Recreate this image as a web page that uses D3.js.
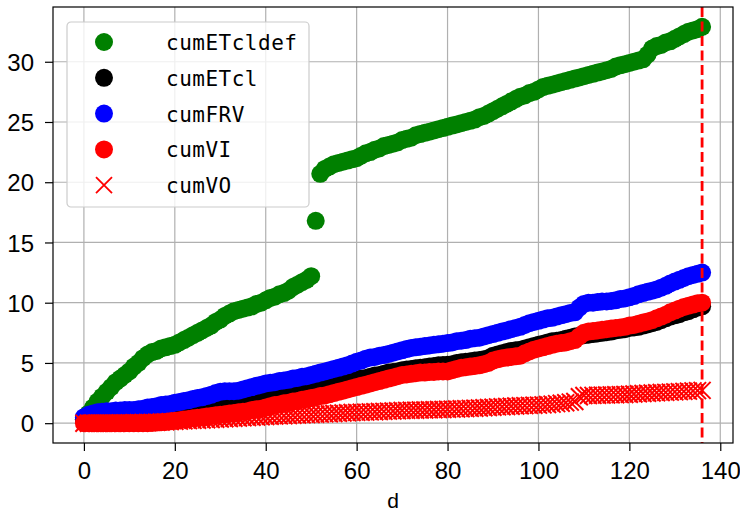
<!DOCTYPE html>
<html>
<head>
<meta charset="utf-8">
<script src="https://cdn.jsdelivr.net/npm/d3@7"></script>
<style>
  html, body { margin: 0; padding: 0; background: #fff; }
  svg { display: block; }
  .tick text { font-family: "Liberation Sans", Arial, sans-serif; font-size: 24px; fill: #000; }
</style>
</head>
<body>
<div id="chart"></div>
<script>
// day index 0..136
const days = d3.range(0, 137);

const cumETcldef = [
  0.3, 0.8, 1.3, 1.8, 2.2, 2.6, 3.0, 3.4, 3.7, 4.0,
  4.3, 4.7, 5.0, 5.4, 5.7, 5.9, 6.0, 6.2, 6.3, 6.4,
  6.5, 6.7, 6.9, 7.1, 7.3, 7.5, 7.7, 7.9, 8.1, 8.4,
  8.6, 8.9, 9.1, 9.3, 9.4, 9.5, 9.6, 9.7, 9.9, 10.0,
  10.2, 10.4, 10.5, 10.7, 10.8, 11.0, 11.3, 11.5, 11.7, 11.9,
  12.2, 16.8, 20.7, 21.1, 21.3, 21.5, 21.6, 21.7, 21.8, 21.9,
  22.0, 22.2, 22.4, 22.5, 22.7, 22.8, 23.0, 23.1, 23.2, 23.3,
  23.5, 23.6, 23.7, 23.9, 24.0, 24.1, 24.2, 24.3, 24.4, 24.5,
  24.6, 24.7, 24.8, 24.9, 25.0, 25.1, 25.2, 25.4, 25.5, 25.7,
  25.9, 26.1, 26.3, 26.5, 26.7, 26.9, 27.1, 27.2, 27.4, 27.5,
  27.7, 27.9, 28.0, 28.1, 28.2, 28.3, 28.4, 28.5, 28.6, 28.7,
  28.8, 28.9, 29.0, 29.1, 29.2, 29.3, 29.4, 29.6, 29.7, 29.8,
  29.9, 30.0, 30.1, 30.2, 30.6, 31.1, 31.3, 31.4, 31.6, 31.7,
  31.9, 32.1, 32.3, 32.5, 32.6, 32.7, 32.9
];

const cumETcl = [
  0.3, 0.3, 0.3, 0.3, 0.3, 0.3, 0.35, 0.35, 0.35, 0.35,
  0.4, 0.4, 0.4, 0.45, 0.45, 0.5, 0.5, 0.55, 0.6, 0.65,
  0.7, 0.75, 0.8, 0.85, 0.9, 0.95, 1.0, 1.05, 1.1, 1.15,
  1.2, 1.3, 1.4, 1.5, 1.55, 1.6, 1.7, 1.75, 1.85, 1.9,
  1.95, 2.05, 2.1, 2.2, 2.25, 2.3, 2.4, 2.5, 2.55, 2.6,
  2.7, 2.8, 2.85, 2.95, 3.05, 3.1, 3.2, 3.3, 3.4, 3.5,
  3.6, 3.7, 3.75, 3.85, 3.95, 4.0, 4.1, 4.2, 4.25, 4.3,
  4.4, 4.45, 4.5, 4.56, 4.6, 4.65, 4.7, 4.75, 4.8, 4.82,
  4.85, 4.9, 5.0, 5.05, 5.1, 5.15, 5.2, 5.25, 5.3, 5.4,
  5.6, 5.7, 5.8, 5.9, 6.0, 6.05, 6.1, 6.2, 6.3, 6.4,
  6.5, 6.6, 6.7, 6.8, 6.85, 6.9, 7.0, 7.1, 7.2, 7.25,
  7.3, 7.35, 7.4, 7.45, 7.5, 7.55, 7.6, 7.7, 7.75, 7.8,
  7.9, 7.95, 8.0, 8.1, 8.2, 8.3, 8.4, 8.55, 8.7, 8.85,
  8.95, 9.05, 9.2, 9.3, 9.45, 9.6, 9.7
];

const cumFRV = [
  0.5, 0.7, 0.8, 0.9, 0.95, 1.0, 1.0, 1.05, 1.05, 1.1,
  1.1, 1.1, 1.15, 1.2, 1.3, 1.35, 1.4, 1.5, 1.55, 1.6,
  1.7, 1.75, 1.85, 1.9, 2.0, 2.1, 2.15, 2.25, 2.35, 2.5,
  2.6, 2.65, 2.65, 2.65, 2.7, 2.8, 2.9, 3.0, 3.1, 3.2,
  3.3, 3.35, 3.4, 3.5, 3.55, 3.6, 3.7, 3.75, 3.85, 3.9,
  4.0, 4.1, 4.2, 4.3, 4.4, 4.5, 4.6, 4.7, 4.8, 4.95,
  5.1, 5.2, 5.35, 5.45, 5.5, 5.6, 5.65, 5.75, 5.85, 5.95,
  6.05, 6.15, 6.25, 6.3, 6.35, 6.4, 6.45, 6.5, 6.55, 6.6,
  6.65, 6.7, 6.8, 6.85, 6.9, 7.0, 7.05, 7.1, 7.2, 7.3,
  7.4, 7.5, 7.6, 7.7, 7.8, 7.9, 8.0, 8.15, 8.3, 8.4,
  8.5, 8.6, 8.7, 8.75, 8.85, 8.95, 9.05, 9.15, 9.2, 9.6,
  9.9, 10.0, 10.0, 10.05, 10.1, 10.1, 10.15, 10.2, 10.3, 10.35,
  10.45, 10.55, 10.7, 10.8, 10.9, 11.0, 11.1, 11.25, 11.4, 11.6,
  11.75, 11.9, 12.05, 12.2, 12.3, 12.4, 12.5
];

const cumVI = [
  0, 0, 0, 0, 0, 0, 0, 0, 0, 0,
  0, 0, 0, 0, 0, 0.02, 0.05, 0.08, 0.1, 0.15,
  0.2, 0.25, 0.3, 0.35, 0.4, 0.45, 0.5, 0.55, 0.6, 0.65,
  0.7, 0.75, 0.8, 0.85, 0.9, 0.95, 1.0, 1.1, 1.15, 1.2,
  1.3, 1.4, 1.5, 1.55, 1.65, 1.7, 1.8, 1.85, 1.95, 2.0,
  2.1, 2.15, 2.25, 2.3, 2.4, 2.5, 2.6, 2.7, 2.8, 2.9,
  3.0, 3.1, 3.2, 3.3, 3.4, 3.5, 3.6, 3.7, 3.8, 3.9,
  4.0, 4.05, 4.1, 4.15, 4.2, 4.2, 4.25, 4.25, 4.3, 4.3,
  4.3, 4.4, 4.5, 4.6, 4.65, 4.7, 4.75, 4.8, 4.9, 5.0,
  5.2, 5.3, 5.4, 5.45, 5.5, 5.55, 5.6, 5.8, 5.95, 6.1,
  6.2, 6.3, 6.4, 6.5, 6.6, 6.65, 6.7, 6.8, 6.9, 7.2,
  7.5, 7.6, 7.65, 7.7, 7.75, 7.8, 7.85, 7.9, 7.95, 8.0,
  8.1, 8.15, 8.25, 8.35, 8.45, 8.55, 8.7, 8.85, 9.0, 9.2,
  9.35, 9.5, 9.65, 9.75, 9.85, 9.95, 10.0
];

const cumVO = [
  0, 0, 0, 0, 0, 0, 0, 0, 0.01, 0.01,
  0.02, 0.03, 0.04, 0.05, 0.06, 0.07, 0.08, 0.1, 0.11, 0.13,
  0.15, 0.17, 0.19, 0.21, 0.23, 0.25, 0.27, 0.29, 0.31, 0.33,
  0.35, 0.37, 0.39, 0.41, 0.43, 0.45, 0.47, 0.49, 0.51, 0.53,
  0.55, 0.57, 0.59, 0.61, 0.62, 0.64, 0.66, 0.68, 0.69, 0.71,
  0.72, 0.74, 0.75, 0.77, 0.78, 0.8, 0.82, 0.84, 0.86, 0.88,
  0.9, 0.91, 0.92, 0.94, 0.95, 0.97, 0.98, 1.0, 1.01, 1.03,
  1.05, 1.06, 1.07, 1.08, 1.09, 1.1, 1.11, 1.12, 1.13, 1.14,
  1.15, 1.17, 1.18, 1.2, 1.21, 1.23, 1.24, 1.26, 1.28, 1.3,
  1.32, 1.35, 1.37, 1.39, 1.41, 1.43, 1.45, 1.46, 1.48, 1.49,
  1.5, 1.52, 1.55, 1.58, 1.62, 1.66, 1.7, 1.75, 1.8, 2.2,
  2.3, 2.3, 2.31, 2.32, 2.33, 2.34, 2.35, 2.36, 2.37, 2.38,
  2.4, 2.42, 2.44, 2.46, 2.48, 2.5, 2.52, 2.54, 2.56, 2.58,
  2.6, 2.62, 2.64, 2.66, 2.68, 2.7, 2.72
];

const seriesNames = ["cumETcldef", "cumETcl", "cumFRV", "cumVI", "cumVO"];
const seriesColors = ["green", "black", "blue", "red", "red"];
const seriesMarkers = ["o", "o", "o", "o", "x"];
const seriesValues = [cumETcldef, cumETcl, cumFRV, cumVI, cumVO];

const xTicks = [0, 20, 40, 60, 80, 100, 120, 140];
const yTicks = [0, 5, 10, 15, 20, 25, 30];
const lastDay = 136; // dashed marker line

const W = 740, H = 514;
const margin = { top: 7, right: 7, bottom: 71, left: 53 };

const svg = d3.select("#chart").append("svg")
  .attr("width", W)
  .attr("height", H);

// matplotlib-like 5% margins
const x = d3.scaleLinear().domain([-6.8, 142.8]).range([margin.left, W - margin.right]);
const y = d3.scaleLinear().domain([-1.645, 34.545]).range([H - margin.bottom, margin.top]);

// grid
const grid = svg.append("g");
grid.selectAll("line.gx")
  .data(xTicks)
  .join("line")
  .attr("x1", d => x(d)).attr("x2", d => x(d))
  .attr("y1", margin.top).attr("y2", H - margin.bottom)
  .attr("stroke", "#b0b0b0").attr("stroke-width", 1.2);
grid.selectAll("line.gy")
  .data(yTicks)
  .join("line")
  .attr("x1", margin.left).attr("x2", W - margin.right)
  .attr("y1", d => y(d)).attr("y2", d => y(d))
  .attr("stroke", "#b0b0b0").attr("stroke-width", 1.2);

// series, drawn in legend order
const xPath = s => `M${-s},${-s}L${s},${s}M${-s},${s}L${s},${-s}`;
const plot = svg.append("g");
seriesValues.forEach((vals, i) => {
  const pts = days.map(d => ({ d, v: vals[d] }));
  const g = plot.append("g");
  if (seriesMarkers[i] === "o") {
    g.selectAll("circle")
      .data(pts)
      .join("circle")
      .attr("cx", p => x(p.d))
      .attr("cy", p => y(p.v))
      .attr("r", 9)
      .attr("fill", seriesColors[i]);
  } else {
    g.selectAll("path")
      .data(pts)
      .join("path")
      .attr("transform", p => `translate(${x(p.d)},${y(p.v)})`)
      .attr("d", xPath(8.5))
      .attr("stroke", seriesColors[i])
      .attr("stroke-width", 2)
      .attr("fill", "none");
  }
});

// vertical dashed line at last day
svg.append("line")
  .attr("x1", x(lastDay)).attr("x2", x(lastDay))
  .attr("y1", margin.top).attr("y2", H - margin.bottom)
  .attr("stroke", "red")
  .attr("stroke-width", 2.8)
  .attr("stroke-dasharray", "10,4.5");

// axes
const xAxis = svg.append("g")
  .attr("transform", `translate(0,${H - margin.bottom})`)
  .call(d3.axisBottom(x).tickValues(xTicks).tickSize(8).tickPadding(11).tickFormat(d3.format("d")));
const yAxis = svg.append("g")
  .attr("transform", `translate(${margin.left},0)`)
  .call(d3.axisLeft(y).tickValues(yTicks).tickSize(8).tickPadding(11).tickFormat(d3.format("d")));
[xAxis, yAxis].forEach(a => {
  a.select(".domain").remove();
  a.selectAll(".tick line").attr("stroke", "#000").attr("stroke-width", 1.2);
});
yAxis.selectAll(".tick text").attr("dy", "0.36em");

// frame
svg.append("rect")
  .attr("x", margin.left).attr("y", margin.top)
  .attr("width", W - margin.left - margin.right)
  .attr("height", H - margin.top - margin.bottom)
  .attr("fill", "none")
  .attr("stroke", "#000")
  .attr("stroke-width", 1.2);

// x label
svg.append("text")
  .attr("x", (margin.left + W - margin.right) / 2)
  .attr("y", 508)
  .attr("text-anchor", "middle")
  .style("font-family", "Liberation Sans, Arial, sans-serif")
  .style("font-size", "21px")
  .text("d");

// legend
const legend = svg.append("g").attr("transform", "translate(67,22)");
legend.append("rect")
  .attr("width", 242).attr("height", 185)
  .attr("rx", 4)
  .attr("fill", "rgba(255,255,255,0.8)")
  .attr("stroke", "#cccccc")
  .attr("stroke-width", 1.2);

const rowY = i => 20 + i * 35.8;
seriesNames.forEach((name, i) => {
  const row = legend.append("g").attr("transform", `translate(0,${rowY(i)})`);
  if (seriesMarkers[i] === "o") {
    row.append("circle").attr("cx", 37).attr("cy", 0).attr("r", 9).attr("fill", seriesColors[i]);
  } else {
    row.append("path")
      .attr("transform", "translate(37,0)")
      .attr("d", xPath(8))
      .attr("stroke", seriesColors[i])
      .attr("stroke-width", 1.8);
  }
  row.append("text")
    .attr("x", 99)
    .attr("y", 8)
    .style("font-family", "DejaVu Sans Mono, monospace")
    .style("font-size", "21px")
    .style("letter-spacing", "0.5px")
    .text(name);
});
</script>
</body>
</html>
